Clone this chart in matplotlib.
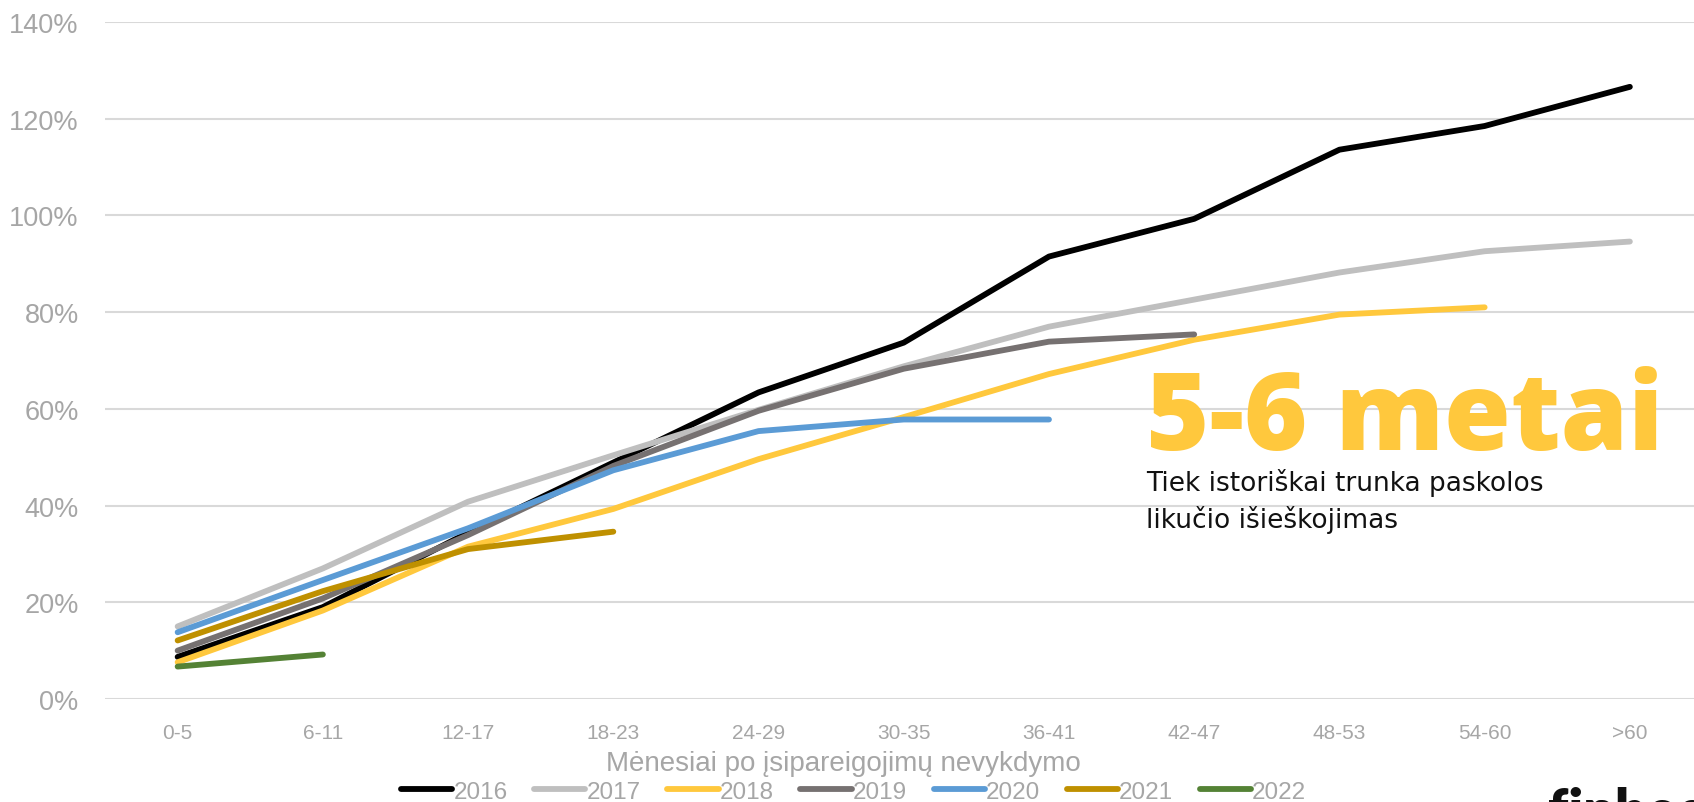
import matplotlib
matplotlib.use("Agg")
import matplotlib.pyplot as plt
from matplotlib import font_manager
from matplotlib.ticker import FuncFormatter

categories = ["0-5", "6-11", "12-17", "18-23", "24-29", "30-35",
              "36-41", "42-47", "48-53", "54-60", ">60"]

y2016 = [8.7, 19.0, 34.4, 48.9, 63.4, 73.7, 91.5, 99.3, 113.6, 118.5, 126.6]
y2017 = [15.0, 27.0, 40.8, 50.4, 59.8, 68.8, 77.0, 82.6, 88.2, 92.6, 94.6]
y2018 = [7.6, 18.3, 31.5, 39.3, 49.6, 58.3, 67.2, 74.3, 79.5, 81.0]
y2019 = [10.0, 20.8, 33.9, 48.2, 59.6, 68.3, 73.9, 75.4]
y2020 = [13.8, 24.6, 35.3, 47.3, 55.4, 57.8, 57.8]
y2021 = [12.1, 22.3, 31.0, 34.6]
y2022 = [6.7, 9.2]

series = [
    ("2016", y2016, "#000000"),
    ("2017", y2017, "#BFBFBF"),
    ("2018", y2018, "#FFC83D"),
    ("2019", y2019, "#767171"),
    ("2020", y2020, "#5B9BD5"),
    ("2021", y2021, "#BF9000"),
    ("2022", y2022, "#548235"),
]

names = {f.name for f in font_manager.fontManager.ttflist}
narrow = "Liberation Sans Narrow" if "Liberation Sans Narrow" in names else "Liberation Sans"
tick_grey = "#A6A6A6"

fig = plt.figure(figsize=(16.94, 8.03), dpi=100)
ax = fig.add_axes([0.062, 0.1283, 0.943, 0.843])

for label, ys, color in series:
    ax.plot(range(len(ys)), ys, color=color, lw=4.2, solid_capstyle="round",
            solid_joinstyle="round", label=label)

ax.set_xlim(-0.5, 10.5)
ax.set_ylim(0, 140)
ax.set_yticks(range(0, 141, 20))
ax.yaxis.set_major_formatter(FuncFormatter(lambda v, _: f"{v:.0f}%"))
ax.set_xticks(range(len(categories)))
ax.set_xticklabels(categories)
ax.grid(axis="y", color="#D9D9D9", lw=1.5)
ax.set_axisbelow(True)
for s in ax.spines.values():
    s.set_visible(False)
ax.tick_params(length=0, colors=tick_grey)
for t in ax.get_yticklabels():
    t.set_fontsize(19.5)
    t.set_fontfamily(narrow)
for t in ax.get_xticklabels():
    t.set_fontsize(15)
    t.set_fontfamily(narrow)
ax.tick_params(axis="y", pad=19)
ax.tick_params(axis="x", pad=17)

fig.text(0.498, 0.049, "Mėnesiai po įsipareigojimų nevykdymo", ha="center", va="center",
         fontsize=20, color=tick_grey, family=narrow)

fig.legend(loc="center", bbox_to_anchor=(0.504, 0.013), ncol=7, frameon=False,
           prop={"family": narrow, "size": 17.5}, labelcolor=tick_grey,
           handlelength=2.1, handletextpad=0.05, columnspacing=1.1)

fig.text(0.6765, 0.439, "5-6 metai", ha="left", va="baseline", fontsize=78,
         fontweight="heavy", family="Open Sans", color="#FFC83D")
fig.text(0.6765, 0.388, "Tiek istoriškai trunka paskolos", ha="left", va="baseline",
         fontsize=19, family="DejaVu Sans", color="#111111")
fig.text(0.6765, 0.342, "likučio išieškojimas", ha="left", va="baseline",
         fontsize=19, family="DejaVu Sans", color="#111111")
fig.text(0.914, 0.02, "finbee", ha="left", va="top", fontsize=40,
         fontweight="heavy", family="Lato", color="#111111")

fig.savefig("out.png", dpi=100)
